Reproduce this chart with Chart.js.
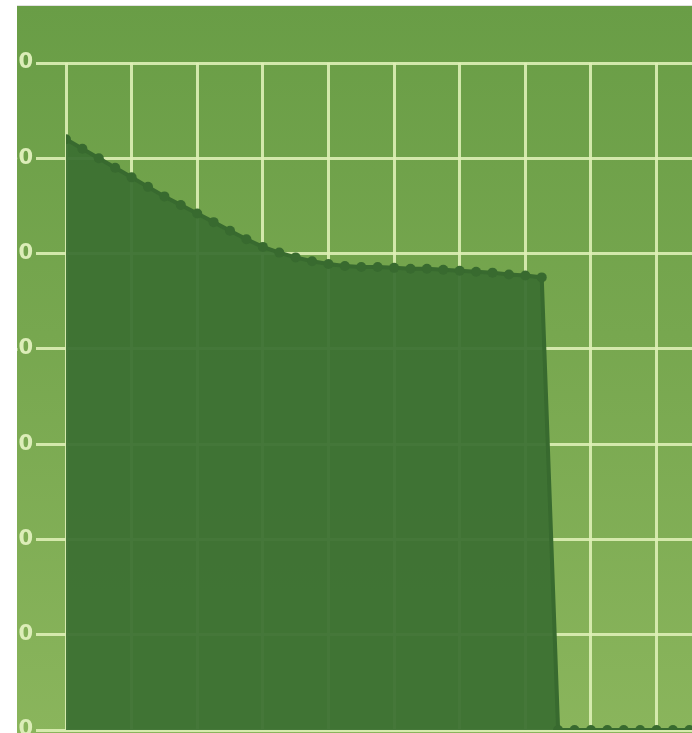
<!DOCTYPE html>
<html>
<head>
<meta charset="utf-8">
<script src="https://cdn.jsdelivr.net/npm/chart.js@4.4.1/dist/chart.umd.min.js"></script>
<style>
  html, body { margin: 0; padding: 0; background: #fff; overflow: hidden; }
  #wrap {
    position: absolute; left: 17px; top: 5px; width: 675px; height: 728px;
    overflow: hidden;
    background: linear-gradient(to bottom, #699d46 0%, #77a74f 45%, #8ab55c 100%);
    border-top: 1px solid #e2e2e2;
  }
  #box { position: absolute; left: -20px; top: 0; width: 845px; height: 742px; }
</style>
</head>
<body>
<div id="wrap"><div id="box"><canvas id="chart"></canvas></div></div>
<script>
// 값 배열
const steps = [0,1,2,3,4,5,6,7,8,9,10,11,12,13,14,15,16,17,18,19,20,21,22,23,
               24,25,26,27,28,29,30,31,32,33,34,35,36,37,38,39,40,41,42,43,44,45,46,47];
const values = [62.0,61.0,60.0,59.0,58.0,57.0,56.0,55.1,54.2,53.3,52.4,51.5,50.7,50.1,49.6,49.2,
                48.9,48.7,48.6,48.6,48.5,48.4,48.4,48.3,48.2,48.1,48.0,47.8,47.7,47.5,
                0,0,0,0,0,0,0,0,0,0,0,0,0,0,0,0,0,0];
const yTicks = [0, 10, 20, 30, 40, 50, 60, 70];

const gridColor = 'rgba(222, 240, 182, 0.9)';

const ctx = document.getElementById('chart').getContext('2d');
new Chart(ctx, {
    type: 'line',
    data: {
        datasets: [{
            data: steps.map((s, i) => ({ x: s, y: values[i] })),
            borderColor: '#386a2f',
            backgroundColor: 'rgba(60, 112, 50, 0.94)',
            borderWidth: 4,
            pointRadius: 5,
            pointBackgroundColor: '#386a2f',
            pointBorderWidth: 0,
            tension: 0,
            fill: 'origin'
        }]
    },
    options: {
        responsive: true,
        maintainAspectRatio: false,
        animation: false,
        layout: { padding: { top: 57, bottom: 18, left: 0, right: 0 } },
        plugins: { legend: { display: false }, tooltip: { enabled: false } },
        scales: {
            x: {
                type: 'linear',
                min: 0,
                max: 47,
                ticks: { display: false, stepSize: 4 },
                grid: { color: gridColor, lineWidth: 3, drawTicks: false },
                border: { display: false },
                afterFit: s => { s.height = 0; }
            },
            y: {
                min: 0,
                max: 70,
                afterBuildTicks: s => { s.ticks = yTicks.map(v => ({ value: v })); },
                ticks: {
                    color: '#dcedb8',
                    padding: 3,
                    font: { family: 'DejaVu Sans', size: 21, weight: 'bold' }
                },
                grid: { color: gridColor, lineWidth: 3, tickLength: 30, tickColor: gridColor },
                border: { display: false },
                afterFit: s => { s.width = 69; }
            }
        }
    }
});
</script>
</body>
</html>
